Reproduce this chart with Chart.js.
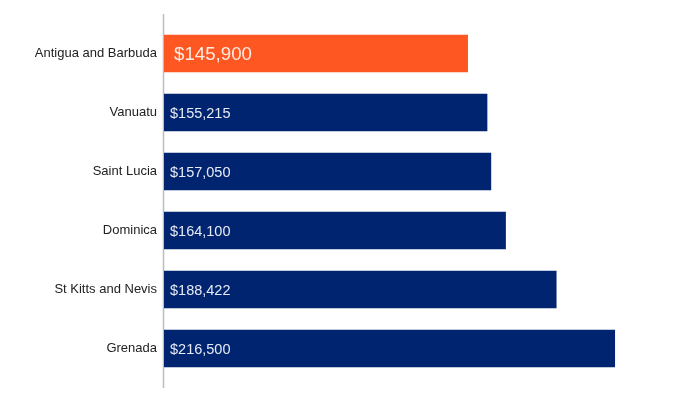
<!DOCTYPE html>
<html>
<head>
<meta charset="utf-8">
<script src="https://cdn.jsdelivr.net/npm/chart.js@4.4.0/dist/chart.umd.min.js"></script>
<style>
  html, body { margin: 0; padding: 0; background: #fff; }
  #wrap { width: 692px; height: 400px; }
</style>
</head>
<body>
<div id="wrap"><canvas id="price-chart"></canvas></div>
<script>
const countries = ['Antigua and Barbuda', 'Vanuatu', 'Saint Lucia', 'Dominica', 'St Kitts and Nevis', 'Grenada'];
const prices = [145900, 155215, 157050, 164100, 188422, 216500];
const barColors = ['#ff5722', '#00246f', '#00246f', '#00246f', '#00246f', '#00246f'];
const highlight = 0; // first bar gets the big label

// draws the "$xxx,xxx" text inside each bar, at its base
const valueLabels = {
    id: 'valueLabels',
    afterDatasetsDraw(chart) {
        const ctx = chart.ctx;
        const meta = chart.getDatasetMeta(0);
        ctx.save();
        ctx.textBaseline = 'middle';
        ctx.textAlign = 'left';
        meta.data.forEach((bar, i) => {
            const big = i === highlight;
            ctx.font = (big ? '18.7px' : '14.5px') + ' "Liberation Sans", Arial, sans-serif';
            ctx.fillStyle = big ? '#fdece4' : '#e6ebf5';
            const txt = '$' + prices[i].toLocaleString('en-US');
            ctx.fillText(txt, bar.base + (big ? 10 : 6), bar.y + 1);
        });
        ctx.restore();
    }
};

// vertical axis line, a bit longer than the plot area like the original
const axisLine = {
    id: 'axisLine',
    beforeDatasetsDraw(chart) {
        const a = chart.chartArea;
        const ctx = chart.ctx;
        ctx.save();
        ctx.strokeStyle = '#bdbdbd';
        ctx.lineWidth = 1.5;
        ctx.beginPath();
        ctx.moveTo(a.left - 0.5, a.top - 10);
        ctx.lineTo(a.left - 0.5, a.bottom + 10);
        ctx.stroke();
        ctx.restore();
    }
};

new Chart(document.getElementById('price-chart'), {
    type: 'bar',
    data: {
        labels: countries,
        datasets: [{
            data: prices,
            backgroundColor: barColors,
            borderWidth: 0,
            categoryPercentage: 1,
            barPercentage: 0.635
        }]
    },
    options: {
        indexAxis: 'y',
        responsive: true,
        maintainAspectRatio: false,
        animation: false,
        layout: { padding: { top: 24, bottom: 22, right: 28, left: 0 } },
        plugins: {
            legend: { display: false },
            tooltip: { enabled: false }
        },
        scales: {
            x: {
                display: false,
                min: 0,
                max: 240000
            },
            y: {
                afterFit: scale => { scale.width = 164; },
                grid: { display: false, drawTicks: false },
                border: { display: false },
                ticks: {
                    padding: 7,
                    color: '#222',
                    font: { family: '"Liberation Sans", Arial, sans-serif', size: 13 }
                }
            }
        }
    },
    plugins: [valueLabels, axisLine]
});
</script>
</body>
</html>
